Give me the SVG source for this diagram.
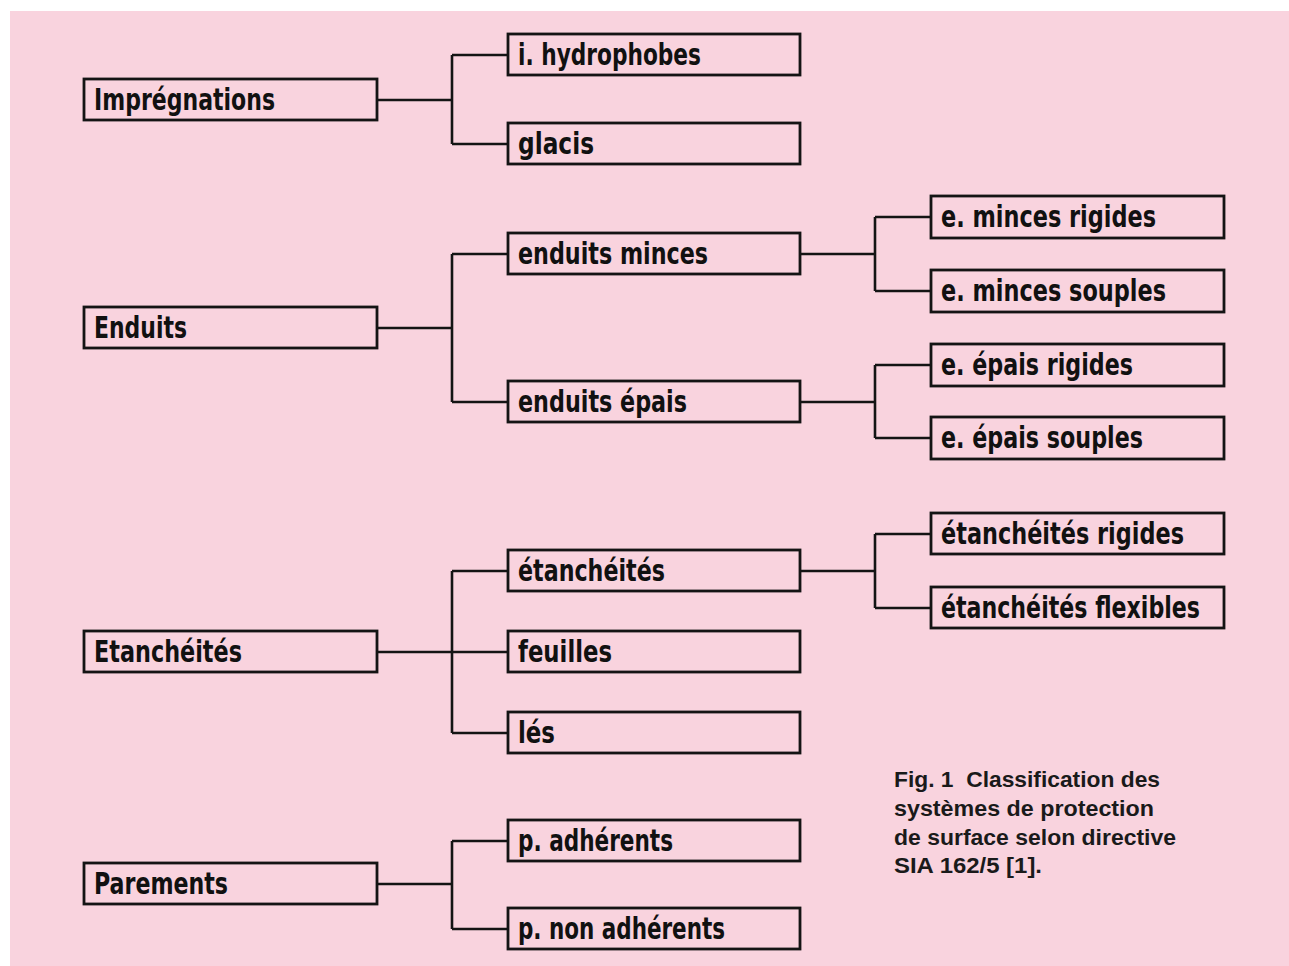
<svg xmlns="http://www.w3.org/2000/svg" width="1289" height="966" viewBox="0 0 1289 966">
<style>
.bx{fill:none;stroke:#141414;stroke-width:2.8}
.t{font-family:"Liberation Sans Narrow","DejaVu Sans Condensed","Liberation Sans",sans-serif;font-stretch:condensed;font-weight:bold;font-size:30px;fill:#111}
.c{fill:none;stroke:#141414;stroke-width:2.6}
.cap{font-family:"Liberation Sans",Arial,sans-serif;font-weight:bold;font-size:22px;fill:#1a1a1a}
</style>
<rect x="0" y="0" width="1289" height="966" fill="#ffffff"/>
<rect x="10" y="11" width="1279" height="955" fill="#F9D3DE"/>
<g id="connectors">
<path class="c" d="M377 100H452M452 55V144M452 55H508M452 144H508"/>
<path class="c" d="M377 328H452M452 254V402M452 254H508M452 402H508"/>
<path class="c" d="M377 652H452M452 571V733M452 571H508M452 652H508M452 733H508"/>
<path class="c" d="M377 884H452M452 841V929M452 841H508M452 929H508"/>
<path class="c" d="M800 254H875M875 217V291M875 217H931M875 291H931"/>
<path class="c" d="M800 402H875M875 365V438M875 365H931M875 438H931"/>
<path class="c" d="M800 571H875M875 534V608M875 534H931M875 608H931"/>
</g>
<g id="n-impregnations"><rect class="bx" x="84" y="79" width="293" height="41"/><text class="t" x="94" y="110" textLength="181" lengthAdjust="spacingAndGlyphs">Imprégnations</text></g>
<g id="n-enduits"><rect class="bx" x="84" y="307" width="293" height="41"/><text class="t" x="94" y="338" textLength="93" lengthAdjust="spacingAndGlyphs">Enduits</text></g>
<g id="n-etancheites"><rect class="bx" x="84" y="631" width="293" height="41"/><text class="t" x="94" y="662" textLength="148" lengthAdjust="spacingAndGlyphs">Etanchéités</text></g>
<g id="n-parements"><rect class="bx" x="84" y="863" width="293" height="41"/><text class="t" x="94" y="894" textLength="134" lengthAdjust="spacingAndGlyphs">Parements</text></g>
<g id="n-hydrophobes"><rect class="bx" x="508" y="34" width="292" height="41"/><text class="t" x="518" y="65" textLength="183" lengthAdjust="spacingAndGlyphs">i. hydrophobes</text></g>
<g id="n-glacis"><rect class="bx" x="508" y="123" width="292" height="41"/><text class="t" x="518" y="154" textLength="76" lengthAdjust="spacingAndGlyphs">glacis</text></g>
<g id="n-enduits-minces"><rect class="bx" x="508" y="233" width="292" height="41"/><text class="t" x="518" y="264" textLength="190" lengthAdjust="spacingAndGlyphs">enduits minces</text></g>
<g id="n-enduits-epais"><rect class="bx" x="508" y="381" width="292" height="41"/><text class="t" x="518" y="412" textLength="169" lengthAdjust="spacingAndGlyphs">enduits épais</text></g>
<g id="n-etancheites2"><rect class="bx" x="508" y="550" width="292" height="41"/><text class="t" x="518" y="581" textLength="147" lengthAdjust="spacingAndGlyphs">étanchéités</text></g>
<g id="n-feuilles"><rect class="bx" x="508" y="631" width="292" height="41"/><text class="t" x="518" y="662" textLength="94" lengthAdjust="spacingAndGlyphs">feuilles</text></g>
<g id="n-les"><rect class="bx" x="508" y="712" width="292" height="41"/><text class="t" x="518" y="743" textLength="37" lengthAdjust="spacingAndGlyphs">lés</text></g>
<g id="n-p-adherents"><rect class="bx" x="508" y="820" width="292" height="41"/><text class="t" x="518" y="851" textLength="155" lengthAdjust="spacingAndGlyphs">p. adhérents</text></g>
<g id="n-p-non-adherents"><rect class="bx" x="508" y="908" width="292" height="41"/><text class="t" x="518" y="939" textLength="207" lengthAdjust="spacingAndGlyphs">p. non adhérents</text></g>
<g id="n-e-minces-rigides"><rect class="bx" x="931" y="196" width="293" height="42"/><text class="t" x="941" y="227" textLength="215" lengthAdjust="spacingAndGlyphs">e. minces rigides</text></g>
<g id="n-e-minces-souples"><rect class="bx" x="931" y="270" width="293" height="42"/><text class="t" x="941" y="301" textLength="225" lengthAdjust="spacingAndGlyphs">e. minces souples</text></g>
<g id="n-e-epais-rigides"><rect class="bx" x="931" y="344" width="293" height="42"/><text class="t" x="941" y="375" textLength="192" lengthAdjust="spacingAndGlyphs">e. épais rigides</text></g>
<g id="n-e-epais-souples"><rect class="bx" x="931" y="417" width="293" height="42"/><text class="t" x="941" y="448" textLength="202" lengthAdjust="spacingAndGlyphs">e. épais souples</text></g>
<g id="n-et-rigides"><rect class="bx" x="931" y="513" width="293" height="41"/><text class="t" x="941" y="544" textLength="243" lengthAdjust="spacingAndGlyphs">étanchéités rigides</text></g>
<g id="n-et-flexibles"><rect class="bx" x="931" y="587" width="293" height="41"/><text class="t" x="941" y="618" textLength="259" lengthAdjust="spacingAndGlyphs">étanchéités flexibles</text></g>
<g id="caption">
<text class="cap" x="894" y="787" textLength="266" lengthAdjust="spacingAndGlyphs" xml:space="preserve">Fig. 1  Classification des</text>
<text class="cap" x="894" y="816" textLength="260" lengthAdjust="spacingAndGlyphs">systèmes de protection</text>
<text class="cap" x="894" y="845" textLength="282" lengthAdjust="spacingAndGlyphs">de surface selon directive</text>
<text class="cap" x="894" y="873" textLength="148" lengthAdjust="spacingAndGlyphs">SIA 162/5 [1].</text>
</g>
</svg>
